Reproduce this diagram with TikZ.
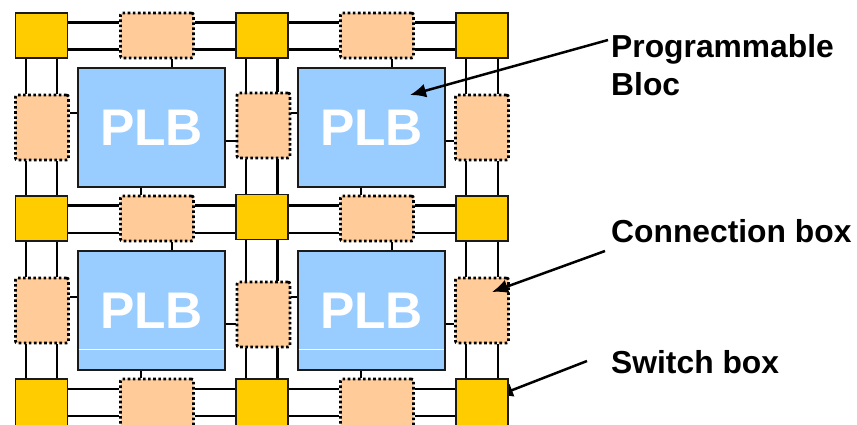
\documentclass[tikz,border=0pt]{standalone}
\usepackage{fontspec}
\setmainfont{Liberation Sans}
\usetikzlibrary{calc,backgrounds,arrows.meta}
\definecolor{switchfill}{HTML}{FFCC00}
\definecolor{connfill}{HTML}{FFCC99}
\definecolor{plbfill}{HTML}{99CCFF}
\definecolor{boxline}{HTML}{1A1A1A}
\tikzset{%
  switchbox/.style={draw=boxline,fill=switchfill,line width=1.8pt,inner sep=0pt,minimum width=52pt,minimum height=45pt},%
  connbox/.style={draw=black,fill=connfill,line width=2.8pt,dash pattern=on 2.6pt off 2.5pt,rounded corners=2pt,inner sep=0pt},%
  hconn/.style={connbox,minimum width=73pt,minimum height=45pt},%
  vconn/.style={connbox,minimum width=53pt,minimum height=65pt},%
  plbbox/.style={draw=boxline,fill=plbfill,line width=1.8pt,inner sep=0pt,minimum width=147pt,minimum height=119pt,text=white,font=\fontsize{51.5}{60}\selectfont\bfseries},%
  wire/.style={line width=2.4pt},%
  heavywire/.style={line width=3pt},%
  stub/.style={line width=2.8pt},%
  callout/.style={line width=2.5pt,-{Latex[length=16pt,width=14pt]}},%
  calloutlabel/.style={anchor=west,inner sep=0pt,align=left,font=\fontsize{31.8}{38}\selectfont\bfseries}%
}
\begin{document}
\begin{tikzpicture}[x=1pt,y=-1pt]
  \useasboundingbox (0,0) rectangle (857,424);%

  % Coordinates
  \coordinate (R1a) at (0,22.5);%
  \coordinate (R1b) at (0,49.5);%
  \coordinate (R2a) at (0,205);%
  \coordinate (R2b) at (0,233);%
  \coordinate (R3a) at (0,389);%
  \coordinate (R3b) at (0,416);%
  \coordinate (C1a) at (26,0);%
  \coordinate (C1b) at (57,0);%
  \coordinate (C2a) at (246,0);%
  \coordinate (C2b) at (277,0);%
  \coordinate (C3a) at (466,0);%
  \coordinate (C3b) at (498,0);%
  \coordinate (T1) at (172,0);%
  \coordinate (B1) at (141,0);%
  \coordinate (T2) at (392,0);%
  \coordinate (B2) at (361,0);%
  \coordinate (L1) at (0,113);%
  \coordinate (E1) at (0,141);%
  \coordinate (L2) at (0,297);%
  \coordinate (E2) at (0,324);%
  \coordinate (W1) at (0,349);%

  % Switch boxes
  \node[switchbox] (S11) at (41.5,35.5) {};%
  \node[switchbox] (S12) at (262,35.5) {};%
  \node[switchbox] (S13) at (482,35.5) {};%
  \node[switchbox] (S21) at (41.5,218.5) {};%
  \node[switchbox] (S22) at (262,217) {};%
  \node[switchbox] (S23) at (482,218.5) {};%
  \node[switchbox,minimum height=52pt] (S31) at (41.5,405) {};%
  \node[switchbox,minimum height=52pt] (S32) at (262,405) {};%
  \node[switchbox,minimum height=52pt] (S33) at (482,405) {};%

  % Connection boxes
  \node[hconn] (H11) at (157,35.5) {};%
  \node[hconn] (H12) at (377,35.5) {};%
  \node[hconn] (H21) at (157,218.5) {};%
  \node[hconn] (H22) at (377,218.5) {};%
  \node[hconn,minimum height=52pt] (H31) at (157,405) {};%
  \node[hconn,minimum height=52pt] (H32) at (377,405) {};%
  \node[vconn] (V11) at (42,127.5) {};%
  \node[vconn] (V12) at (263.5,125.5) {};%
  \node[vconn] (V13) at (482,127.5) {};%
  \node[vconn] (V21) at (42,310.5) {};%
  \node[vconn] (V22) at (263.5,314.5) {};%
  \node[vconn] (V23) at (482,310.5) {};%

  % Logic blocs
  \node[plbbox] (P11) at (151.5,127.5) {PLB};%
  \node[plbbox] (P12) at (371.5,127.5) {PLB};%
  \node[plbbox] (P21) at (151.5,310.5) {PLB};%
  \node[plbbox] (P22) at (371.5,310.5) {PLB};%
  \draw[white,line width=0.8pt] ($(P21.west |- W1)+(1.5,0)$) -- ($(P21.east |- W1)+(-1.5,0)$);%
  \draw[white,line width=0.8pt] ($(P22.west |- W1)+(1.5,0)$) -- ($(P22.east |- W1)+(-1.5,0)$);%

  % Labels
  \node[calloutlabel] (LBloc) at (611,65) {Programmable\\Bloc};%
  \node[calloutlabel] (LConn) at (611,231) {Connection box};%
  \node[calloutlabel] (LSwitch) at (611,362) {Switch box};%
  \coordinate (A1) at (608,40);%
  \coordinate (A2) at (605,251);%
  \coordinate (A3) at (587,361);%

  % Callouts
  \draw[callout] (A1) -- ($(P12)+(38.5,-32.5)$);%
  \draw[callout] (A2) -- ($(V23)+(10,-18.5)$);%

  \begin{scope}[on background layer]
    % Horizontal lines
    \draw[heavywire] (S11.east |- R1a) -- (H11.west |- R1a) (H11.east |- R1a) -- (S12.west |- R1a) (S12.east |- R1a) -- (H12.west |- R1a) (H12.east |- R1a) -- (S13.west |- R1a);%
    \draw[heavywire] (S11.east |- R1b) -- (H11.west |- R1b) (H11.east |- R1b) -- (S12.west |- R1b) (S12.east |- R1b) -- (H12.west |- R1b) (H12.east |- R1b) -- (S13.west |- R1b);%
    \draw[heavywire] (S21.east |- R2a) -- (H21.west |- R2a) (H21.east |- R2a) -- (S22.west |- R2a) (S22.east |- R2a) -- (H22.west |- R2a) (H22.east |- R2a) -- (S23.west |- R2a);%
    \draw[wire] (S21.east |- R2b) -- (H21.west |- R2b) (H21.east |- R2b) -- (S22.west |- R2b) (S22.east |- R2b) -- (H22.west |- R2b) (H22.east |- R2b) -- (S23.west |- R2b);%
    \draw[wire] (S31.east |- R3a) -- (H31.west |- R3a) (H31.east |- R3a) -- (S32.west |- R3a) (S32.east |- R3a) -- (H32.west |- R3a) (H32.east |- R3a) -- (S33.west |- R3a);%
    \draw[wire] (S31.east |- R3b) -- (H31.west |- R3b) (H31.east |- R3b) -- (S32.west |- R3b) (S32.east |- R3b) -- (H32.west |- R3b) (H32.east |- R3b) -- (S33.west |- R3b);%

    % Vertical lines
    \draw[wire] (C1a |- S11.south) -- (C1a |- V11.north) (C1a |- V11.south) -- (C1a |- S21.north) (C1a |- S21.south) -- (C1a |- V21.north) (C1a |- V21.south) -- (C1a |- S31.north);%
    \draw[wire] (C1b |- S11.south) -- (C1b |- V11.north) (C1b |- V11.south) -- (C1b |- S21.north) (C1b |- S21.south) -- (C1b |- V21.north) (C1b |- V21.south) -- (C1b |- S31.north);%
    \draw[wire] (C2a |- S12.south) -- (C2a |- V12.north) (C2a |- V12.south) -- (C2a |- S22.north) (C2a |- S22.south) -- (C2a |- V22.north) (C2a |- V22.south) -- (C2a |- S32.north);%
    \draw[heavywire] (C2b |- S12.south) -- (C2b |- V12.north) (C2b |- V12.south) -- (C2b |- S22.north) (C2b |- S22.south) -- (C2b |- V22.north) (C2b |- V22.south) -- (C2b |- S32.north);%
    \draw[wire] (C3a |- S13.south) -- (C3a |- V13.north) (C3a |- V13.south) -- (C3a |- S23.north) (C3a |- S23.south) -- (C3a |- V23.north) (C3a |- V23.south) -- (C3a |- S33.north);%
    \draw[wire] (C3b |- S13.south) -- (C3b |- V13.north) (C3b |- V13.south) -- (C3b |- S23.north) (C3b |- S23.south) -- (C3b |- V23.north) (C3b |- V23.south) -- (C3b |- S33.north);%

    % Stubs to the blocs
    \draw[stub] (T1 |- H11.south) -- (T1 |- P11.north) (B1 |- P11.south) -- (B1 |- H21.north);%
    \draw[stub] (T2 |- H12.south) -- (T2 |- P12.north) (B2 |- P12.south) -- (B2 |- H22.north);%
    \draw[stub] (T1 |- H21.south) -- (T1 |- P21.north) (B1 |- P21.south) -- (B1 |- H31.north);%
    \draw[stub] (T2 |- H22.south) -- (T2 |- P22.north) (B2 |- P22.south) -- (B2 |- H32.north);%
    \draw[stub] (V11.east |- L1) -- (P11.west |- L1) (P11.east |- E1) -- (V12.west |- E1);%
    \draw[stub] (V12.east |- L1) -- (P12.west |- L1) (P12.east |- E1) -- (V13.west |- E1);%
    \draw[stub] (V21.east |- L2) -- (P21.west |- L2) (P21.east |- E2) -- (V22.west |- E2);%
    \draw[stub] (V22.east |- L2) -- (P22.west |- L2) (P22.east |- E2) -- (V23.west |- E2);%

    % Callout under the box
    \draw[callout] (A3) -- ($(S33)+(15,-9)$);%
  \end{scope}
\end{tikzpicture}
\end{document}
